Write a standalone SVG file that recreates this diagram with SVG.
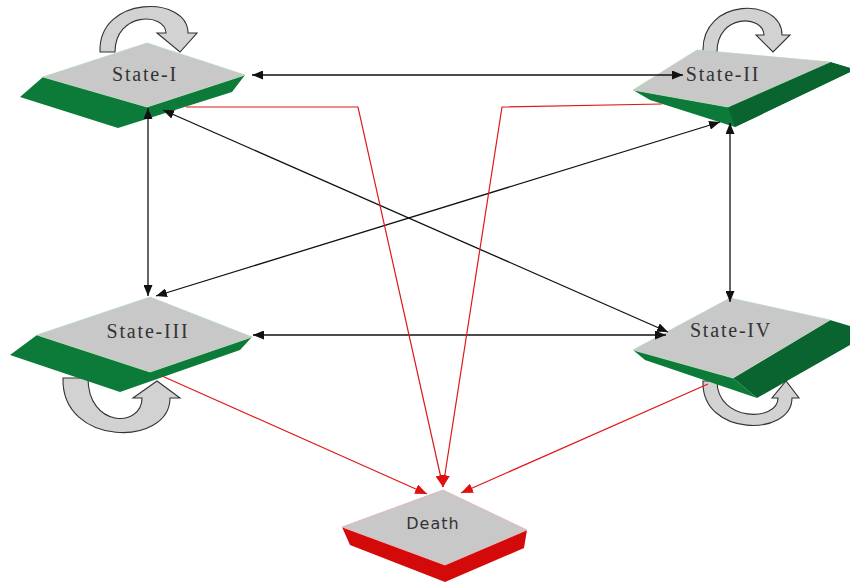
<svg xmlns="http://www.w3.org/2000/svg" width="851" height="585" viewBox="0 0 851 585">
<style>
.top{fill:#c8c8c8;stroke:#b8d8b8;stroke-width:0.8}
.green{fill:#0c7a38}
.dgreen{fill:#0a6430}
.red{fill:#d40a0a}
.loop{fill:#d2d2d2;stroke:#333;stroke-width:1.1}
.lbl{font-family:"Liberation Serif","DejaVu Serif",serif;font-size:20px;letter-spacing:1.8px;fill:#333;text-anchor:middle}
.dlbl{font-family:"DejaVu Sans","Liberation Sans",sans-serif;font-size:16px;letter-spacing:1px;fill:#333;text-anchor:middle}
.blk{stroke:#111;stroke-width:1.3;fill:none;marker-start:url(#ab);marker-end:url(#ab)}
.rd{stroke:#e01818;stroke-width:1.2;fill:none;marker-end:url(#ar)}
</style>
<defs>
<marker id="ab" markerUnits="userSpaceOnUse" markerWidth="11" markerHeight="9" refX="11" refY="4.5" orient="auto-start-reverse"><path d="M0,0 L11,4.5 L0,9 z" fill="#111"/></marker>
<marker id="ar" markerUnits="userSpaceOnUse" markerWidth="12" markerHeight="10" refX="12" refY="5" orient="auto"><path d="M0,0 L12,5 L0,10 z" fill="#e01010"/></marker>
</defs>
<rect width="851" height="585" fill="#fff"/>
<g id="loops">
<path class="loop" d="M100,52 C98,-5 188,-5 188,33 L197,33 L180,52 L157,33 L166,33 C165,12 115,12 115,52 Z"/>
<path class="loop" d="M703,52 C701,-3 782,-3 782,35 L790,35 L773,52 L756,35 L764,35 C763,14 717,14 717,52 Z"/>
<path class="loop" d="M63,378 C61,447 170,447 170,398 L180,398 L157,381 L133,398 L142,398 C142,428 88,428 88,378 Z"/>
<path class="loop" d="M703,381 C701,437 792,437 792,398 L799,398 L786,381 L772,398 L778,398 C778,422 717,422 717,381 Z"/>
</g>
<g id="state1">
<polygon class="green" points="43,77 147,107 245,75 232,92 118,128 20,97"/>
<polygon class="top" points="147,43 245,75 147,107 43,77"/>
<text class="lbl" x="145" y="81">State-I</text>
</g>
<g id="state2">
<polygon class="green" points="633,90 728,107 830,62 850,68 850,72 735,127 650,100"/>
<polygon class="dgreen" points="728,107 830,62 850,68 850,72 735,127"/>
<polygon class="top" points="633,90 697,50 830,62 728,107"/>
<text class="lbl" x="723" y="81">State-II</text>
</g>
<g id="state3">
<polygon class="green" points="37,335 150,372 252,337 240,350 120,392 10,355"/>
<polygon class="top" points="150,297 252,337 150,372 37,335"/>
<text class="lbl" x="148" y="338">State-III</text>
</g>
<g id="state4">
<polygon class="green" points="633,350 733,378 757,398 645,360"/>
<polygon class="dgreen" points="733,378 830,320 850,326 850,345 757,398"/>
<polygon class="top" points="633,350 730,298 830,320 733,378"/>
<text class="lbl" x="731" y="337">State-IV</text>
</g>
<g id="death">
<polygon class="red" points="342,527 445,565 527,530 524,548 445,582 350,545"/>
<polygon class="top" style="stroke:#e8b0b0" points="443,490 527,530 445,565 342,527"/>
<text class="dlbl" x="433" y="529">Death</text>
</g>
<g id="connectors">
<path class="blk" d="M252,75 L683,75"/>
<path class="blk" d="M148,108 L148,296"/>
<path class="blk" d="M163,110 L668,332"/>
<path class="blk" d="M720,122 L156,296"/>
<path class="blk" d="M730,123 L730,302"/>
<path class="blk" d="M253,335 L666,335"/>
<path class="rd" d="M186,107 L358,107 L443,487"/>
<path class="rd" d="M662,104 L502,107 L443,487"/>
<path class="rd" d="M162,376 L427,494"/>
<path class="rd" d="M708,384 L461,493"/>
</g>
</svg>
